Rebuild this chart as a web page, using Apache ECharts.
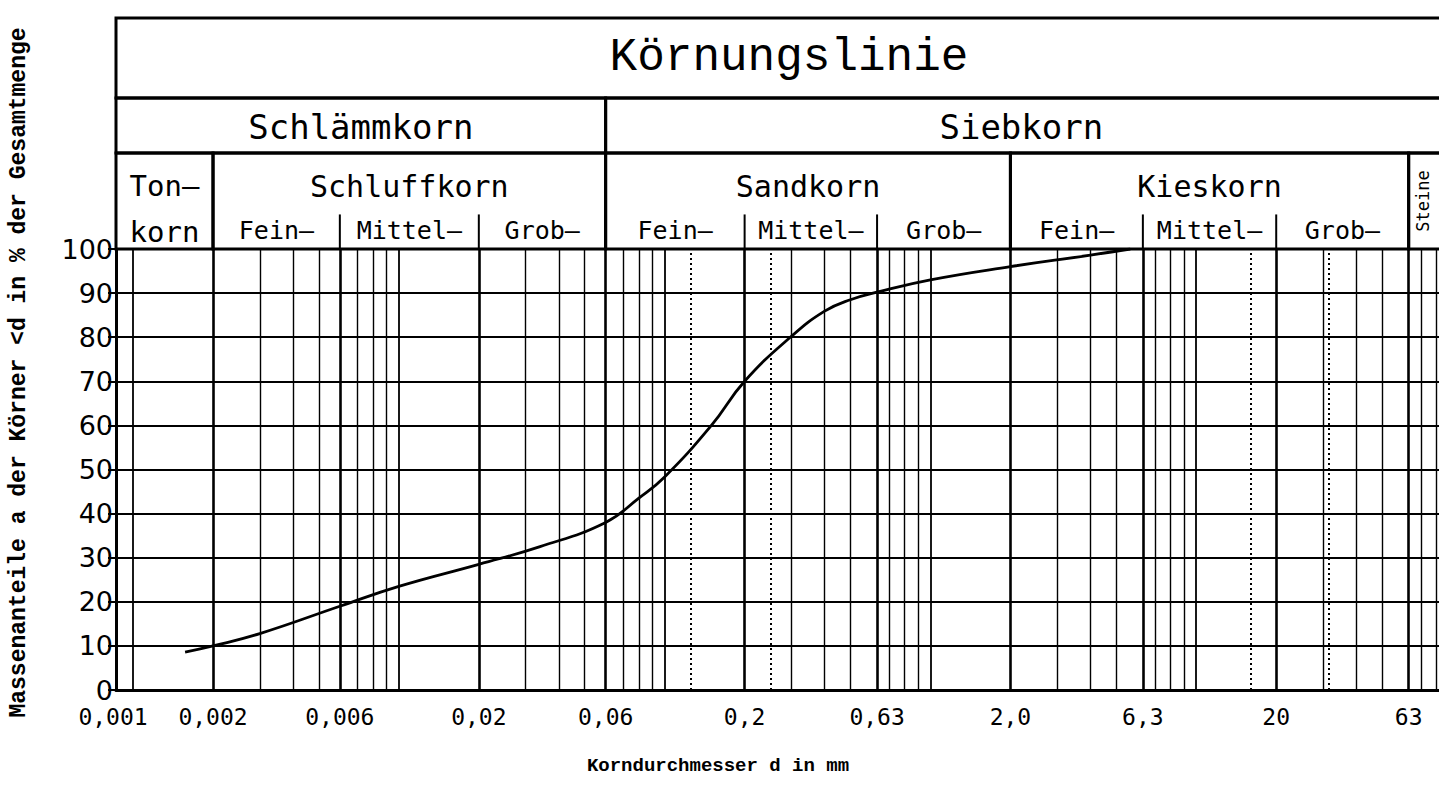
<!DOCTYPE html>
<html>
<head>
<meta charset="utf-8">
<script src="https://cdn.jsdelivr.net/npm/echarts@6/dist/echarts.min.js"></script>
<style>
html,body{margin:0;padding:0;background:#fff;}
#chart{width:1439px;height:796px;}
</style>
</head>
<body>
<div id="chart"></div>
<script>
// ---------------- data ----------------
const grainSizeMm    = [0.00157, 0.002, 0.003, 0.006, 0.01, 0.02, 0.034, 0.06, 0.08, 0.1, 0.15, 0.2, 0.3, 0.4, 0.5, 0.63, 1.0, 2.0, 4.0, 5.65];
const passingPercent = [8.6, 10, 12.8, 19, 23.5, 28.5, 32.5, 38, 43.5, 48.3, 60, 70, 80.2, 85.9, 88.5, 90.2, 93, 96, 98.6, 100];

const xTickValues = [0.001, 0.002, 0.006, 0.02, 0.06, 0.2, 0.63, 2.0, 6.3, 20, 63];
const xTickLabels = ['0,001', '0,002', '0,006', '0,02', '0,06', '0,2', '0,63', '2,0', '6,3', '20', '63'];
const yTickValues = [0, 10, 20, 30, 40, 50, 60, 70, 80, 90, 100];

const X_MIN = 0.000863;
const X_MAX = 100;

const titleText = 'Körnungslinie';
const xAxisTitle = 'Korndurchmesser d in mm';
const yAxisTitle = 'Massenanteile a der Körner <d in % der Gesamtmenge';

const fractionLabels = ['Schlämmkorn', 'Siebkorn'];
const fractionBounds = [[X_MIN, 0.06], [0.06, X_MAX]];

const groupLabels = ['Ton—\nkorn', 'Schluffkorn', 'Sandkorn', 'Kieskorn', 'Steine'];
const groupBounds = [[X_MIN, 0.002], [0.002, 0.06], [0.06, 2.0], [2.0, 63], [63, X_MAX]];

const subLabels = ['Fein—', 'Mittel—', 'Grob—', 'Fein—', 'Mittel—', 'Grob—', 'Fein—', 'Mittel—', 'Grob—'];
const subBounds = [[0.002, 0.006], [0.006, 0.02], [0.02, 0.06], [0.06, 0.2], [0.2, 0.63], [0.63, 2.0], [2.0, 6.3], [6.3, 20], [20, 63]];

// grid structure of the log paper
const gridDecades = [0.001, 0.01, 0.1, 1, 10];
const gridMultipliers = [1, 2, 3, 4, 5, 6, 7, 8, 9];
const boundaryLines = [0.002, 0.006, 0.02, 0.06, 0.2, 0.63, 2.0, 6.3, 20, 63];
const sieveLines = [0.125, 0.25, 16, 31.5];

// ---------------- build ----------------
const MONO = '"DejaVu Sans Mono", monospace';
const TYPE = '"Liberation Mono", "DejaVu Sans Mono", monospace';

const curveData = grainSizeMm.map((d, i) => [d, passingPercent[i]]);

const markLineData = [];
gridDecades.forEach(dec => gridMultipliers.forEach(m => {
  const v = +(dec * m).toPrecision(6);
  const nearBoundary = boundaryLines.some(b => Math.abs(b / v - 1) < 0.07);
  if (!nearBoundary && v > X_MIN && v < X_MAX) {
    markLineData.push({ xAxis: v, lineStyle: { color: '#000', width: m === 1 ? 1.8 : 1.4, type: 'solid' } });
  }
}));
boundaryLines.forEach(v => markLineData.push({ xAxis: v, lineStyle: { color: '#000', width: 2.6, type: 'solid' } }));
sieveLines.forEach(v => markLineData.push({ xAxis: v, lineStyle: { color: '#000', width: 2, type: [2, 3] } }));

function labelIndex(v) {
  let best = 0, bd = Infinity;
  xTickValues.forEach((t, i) => { const d = Math.abs(Math.log(t) - Math.log(v)); if (d < bd) { bd = d; best = i; } });
  return best;
}

const BORDER = 3;

function cellSeries(gridIndex, bounds, labels, textStyleFn, opts) {
  opts = opts || {};
  return {
    type: 'custom',
    xAxisIndex: gridIndex,
    yAxisIndex: gridIndex,
    coordinateSystem: 'cartesian2d',
    silent: true,
    clip: false,
    encode: { x: [0, 1], y: 2 },
    data: bounds.map((b, i) => [b[0], b[1], 0, i]),
    renderItem: function (params, api) {
      const x0 = api.value(0), x1 = api.value(1), idx = api.value(3);
      const pb = api.coord([x0, 0]);
      const pt = api.coord([x1, 1]);
      const children = [];
      if (!opts.noRect) {
        children.push({
          type: 'rect',
          shape: { x: pb[0], y: pt[1], width: pt[0] - pb[0], height: pb[1] - pt[1] },
          style: { fill: 'none', stroke: '#000', lineWidth: BORDER }
        });
      }
      if (opts.separator) {
        const sTop = api.coord([x0, opts.separator]);
        children.push({
          type: 'line',
          shape: { x1: pb[0], y1: pb[1], x2: pb[0], y2: sTop[1] },
          style: { stroke: '#000', lineWidth: 2 }
        });
      }
      const st = textStyleFn(idx);
      const mid = api.coord([x0, st.yPos]);
      // centre of the cell (or of its visible part)
      const rightEdge = opts.visibleCentre ? Math.min(pt[0], api.getWidth() - 2) : pt[0];
      const midX = (pb[0] + rightEdge) / 2;
      children.push({
        type: 'text',
        x: midX,
        y: mid[1],
        rotation: st.rotation || 0,
        style: {
          text: labels[idx],
          fill: '#000',
          fontFamily: st.fontFamily,
          fontSize: st.fontSize,
          fontWeight: st.fontWeight || 'normal',
          lineHeight: st.lineHeight,
          align: 'center',
          verticalAlign: 'middle'
        }
      });
      return { type: 'group', children: children };
    }
  };
}

const logAxisBase = { type: 'log', logBase: 10, min: X_MIN, max: X_MAX };

const option = {
  animation: false,
  backgroundColor: '#ffffff',
  grid: [
    { left: 116, right: -23, top: 249, bottom: 106, outerBoundsMode: 'none' }, // plot
    { left: 116, right: -23, top: 18, height: 80, outerBoundsMode: 'none' },   // title row
    { left: 116, right: -23, top: 98, height: 55, outerBoundsMode: 'none' },   // Schlämm/Sieb row
    { left: 116, right: -23, top: 153, height: 96, outerBoundsMode: 'none' }   // soil groups row
  ],
  xAxis: [
    Object.assign({}, logAxisBase, {
      gridIndex: 0,
      name: xAxisTitle,
      nameLocation: 'middle',
      nameGap: 66,
      nameTextStyle: { fontFamily: TYPE, fontWeight: 'bold', fontSize: 19, color: '#000', padding: [0, 142, 0, 0] },
      axisLine: { show: true, onZero: false, lineStyle: { color: '#000', width: 3 } },
      axisTick: { show: false },
      splitLine: { show: false },
      minorTick: { show: false },
      axisLabel: {
        show: true,
        customValues: xTickValues,
        formatter: v => {
          const i = labelIndex(v);
          return i === 0 ? '{first|' + xTickLabels[i] + '}' : xTickLabels[i];
        },
        rich: { first: { fontFamily: MONO, fontSize: 23, color: '#000', padding: [0, 40, 0, 0] } },
        fontFamily: MONO,
        fontSize: 23,
        color: '#000',
        margin: 15
      }
    }),
    Object.assign({}, logAxisBase, { gridIndex: 1, show: false }),
    Object.assign({}, logAxisBase, { gridIndex: 2, show: false }),
    Object.assign({}, logAxisBase, { gridIndex: 3, show: false })
  ],
  yAxis: [
    {
      type: 'value', gridIndex: 0, min: 0, max: 100, interval: 10,
      name: yAxisTitle,
      nameLocation: 'middle',
      nameRotate: 90,
      nameGap: 86,
      nameTextStyle: { fontFamily: TYPE, fontWeight: 'bold', fontSize: 23, color: '#000', padding: [0, 0, 0, 194] },
      axisLine: { show: true, lineStyle: { color: '#000', width: 3 } },
      axisTick: { show: true, length: 8, lineStyle: { color: '#000', width: 2 } },
      splitLine: { show: true, lineStyle: { color: '#000', width: 2 } },
      axisLabel: {
        customValues: yTickValues,
        fontFamily: '"DejaVu Sans", sans-serif',
        fontSize: 27,
        color: '#000',
        margin: 3
      }
    },
    { type: 'value', gridIndex: 1, min: 0, max: 1, show: false },
    { type: 'value', gridIndex: 2, min: 0, max: 1, show: false },
    { type: 'value', gridIndex: 3, min: 0, max: 1, show: false }
  ],
  series: [
    {
      type: 'line',
      name: 'Körnungslinie',
      xAxisIndex: 0,
      yAxisIndex: 0,
      data: curveData,
      smooth: 0.45,
      showSymbol: false,
      symbol: 'none',
      lineStyle: { color: '#000', width: 2.8 },
      silent: true,
      z: 5,
      markLine: {
        silent: true,
        precision: 8,
        symbol: ['none', 'none'],
        label: { show: false },
        emphasis: { disabled: true },
        data: markLineData,
        z: 1
      }
    },
    cellSeries(1, [[X_MIN, X_MAX]], [titleText], () => ({ yPos: 0.5, fontFamily: TYPE, fontSize: 46 })),
    cellSeries(2, fractionBounds, fractionLabels, () => ({ yPos: 0.48, fontFamily: MONO, fontSize: 34 }), { visibleCentre: true }),
    cellSeries(3, groupBounds, groupLabels, idx => {
      if (idx === 0) return { yPos: 0.42, fontFamily: MONO, fontSize: 29, lineHeight: 46 };
      if (idx === 4) return { yPos: 0.5, fontFamily: MONO, fontSize: 17, rotation: Math.PI / 2 };
      return { yPos: 0.65, fontFamily: MONO, fontSize: 30 };
    }, { visibleCentre: true }),
    cellSeries(3, subBounds, subLabels, () => ({ yPos: 0.19, fontFamily: MONO, fontSize: 25 }), { noRect: true, separator: 0.36 })
  ]
};

const chart = echarts.init(document.getElementById('chart'), null, { renderer: 'svg' });
chart.setOption(option);
</script>
</body>
</html>
